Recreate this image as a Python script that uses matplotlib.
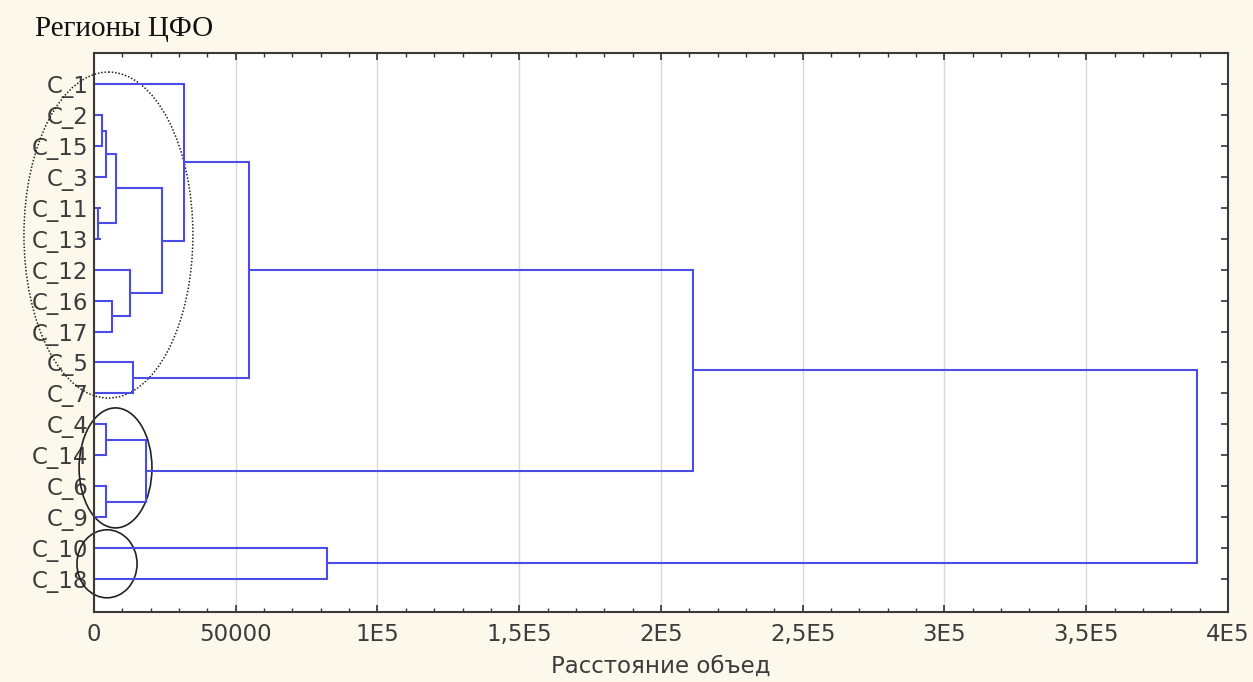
import matplotlib.pyplot as plt
from matplotlib.patches import Ellipse
from matplotlib.ticker import MultipleLocator

# листья дендрограммы (сверху вниз)
leaves = ["C_1", "C_2", "C_15", "C_3", "C_11", "C_13", "C_12", "C_16", "C_17",
          "C_5", "C_7", "C_4", "C_14", "C_6", "C_9", "C_10", "C_18"]

# объединения: индексы узлов (>= число листьев -> ранее созданный узел) и расстояние
merge_a = [4, 1, 18, 11, 13, 19, 7, 6, 9, 20, 22, 0, 28, 15, 29, 31]
merge_b = [5, 2, 3, 12, 14, 17, 8, 23, 10, 21, 24, 27, 25, 16, 26, 30]
merge_h = [1500, 2800, 4200, 4200, 4200, 7800, 6200, 12700, 13600, 18200,
           24100, 31700, 54800, 82300, 211300, 389100]

xticks = [0, 50000, 100000, 150000, 200000, 250000, 300000, 350000, 400000]
xtick_labels = ["0", "50000", "1E5", "1,5E5", "2E5", "2,5E5", "3E5", "3,5E5", "4E5"]

line_color = "#4b4be6"
text_color = "#3c3c3c"

fig = plt.figure(figsize=(12.53, 6.82), dpi=100, facecolor="#fcf8ec")
ax = fig.add_axes([0.075, 0.1026, 0.905, 0.8194])
ax.set_facecolor("white")

# координаты узлов
pos_y = {i: i + 1 for i in range(len(leaves))}
pos_x = {i: 0 for i in range(len(leaves))}
n = len(leaves)
for k, (a, b, h) in enumerate(zip(merge_a, merge_b, merge_h)):
    ya, yb = pos_y[a], pos_y[b]
    ax.plot([pos_x[a], h, h, pos_x[b]], [ya, ya, yb, yb],
            color=line_color, lw=1.5, solid_joinstyle="miter")
    pos_y[n + k] = (ya + yb) / 2
    pos_x[n + k] = h

# выделенные группы регионов
ax.add_patch(Ellipse((5100, 5.88), 59600, 10.54, fill=False, ls=(0, (1, 1.2)),
                     lw=1.1, ec="#222222", clip_on=False))
ax.add_patch(Ellipse((7600, 13.41), 25700, 3.88, fill=False, lw=1.2,
                     ec="#222222", clip_on=False))
ax.add_patch(Ellipse((4600, 16.51), 21200, 2.2, fill=False, lw=1.2,
                     ec="#222222", clip_on=False))

ax.set_xlim(0, 400000)
ax.set_ylim(18.07, 0)
ax.set_xticks(xticks)
ax.set_xticklabels(xtick_labels)
ax.xaxis.set_minor_locator(MultipleLocator(10000))
ax.set_yticks(range(1, n + 1))
ax.set_yticklabels(leaves)
ax.grid(axis="x", color="#d8d8d8", lw=1)
ax.set_axisbelow(True)

ax.tick_params(which="both", direction="in", top=True, right=True,
               colors="#333333", labelcolor=text_color, labelsize=16.5)
ax.tick_params(which="major", length=5, width=1.2)
ax.tick_params(which="minor", length=3, width=1)
ax.tick_params(axis="x", pad=8)
ax.tick_params(axis="y", pad=4)
for lbl in ax.get_xticklabels() + ax.get_yticklabels():
    lbl.set_family("DejaVu Sans")
for s in ax.spines.values():
    s.set_color("#3a3a3a")
    s.set_linewidth(1.5)

ax.set_xlabel("Расстояние объед", fontsize=16.5, color=text_color,
              family="DejaVu Sans", labelpad=6)
fig.text(0.028, 0.958, "Регионы ЦФО", fontsize=21, family="Liberation Serif",
         color="#111111", ha="left", va="center")

fig.savefig("out.png", dpi=100, facecolor=fig.get_facecolor())
